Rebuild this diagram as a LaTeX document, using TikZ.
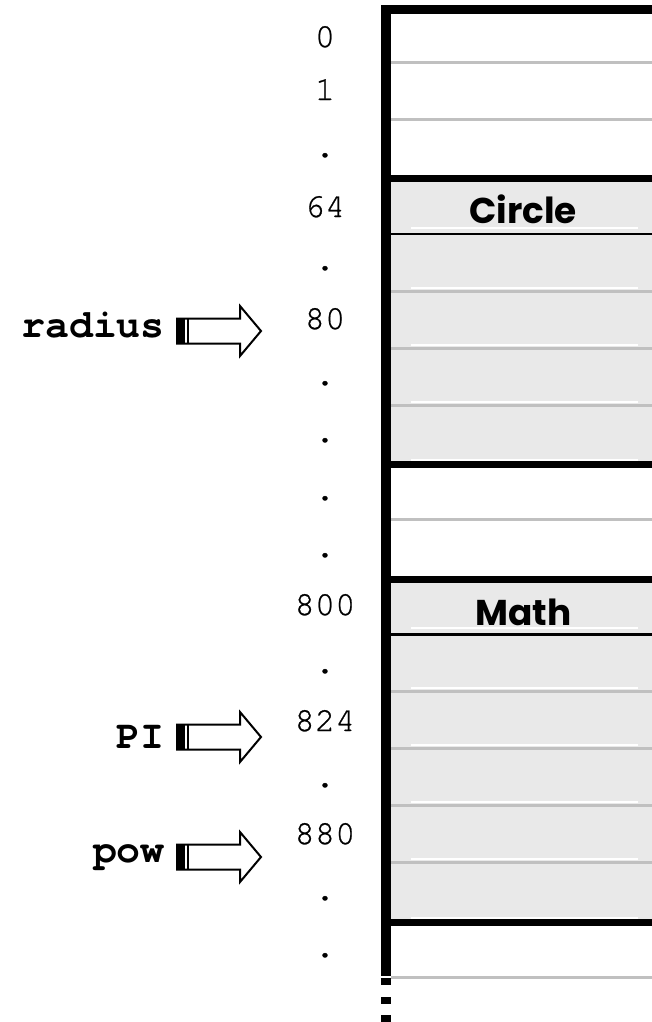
\documentclass[tikz,border=0pt]{standalone}
\usepackage{fontspec}
\newfontfamily\cour{TeX Gyre Cursor}
\newfontfamily\courfb[FakeBold=0.7]{TeX Gyre Cursor}
\newfontfamily\comic{Poppins}
\newcommand\numfont{\courfb\fontsize{34}{34}\selectfont}
\newcommand\lblfont{\cour\bfseries\fontsize{40}{40}\selectfont}
\newcommand\hdrfont{\comic\bfseries\fontsize{36}{36}\selectfont}
\definecolor{cellgray}{HTML}{E9E9E9}
\definecolor{rulegray}{HTML}{C0C0C0}
\tikzset{
  num/.style={font=\numfont, anchor=base, inner sep=0pt},
  lbl/.style={font=\lblfont, anchor=base east, inner sep=0pt},
  hdr/.style={font=\hdrfont, anchor=base, inner sep=0pt},
  grayrule/.style={draw=rulegray, line width=3bp},
  hilite/.style={draw=white, line width=2bp},
  heavyrule/.style={draw=black, line width=7bp},
  headrule/.style={draw=black, line width=2.5bp},
  memarrow/.pic={
    \draw[line width=2bp, fill=white, line join=miter]
      (0,-12.5) -- (63,-12.5) -- (63,-25) -- (84,0) -- (63,25) -- (63,12.5) -- (0,12.5) -- cycle;
    \fill (0,-12.5) rectangle (8,12.5);
    \draw[line width=2bp] (11,-12.5) -- (11,12.5);
  }
}
\begin{document}
\begin{tikzpicture}[x=1bp,y=-1bp]
\useasboundingbox (0,0) rectangle (652,1022);
% gray object blocks
\fill[cellgray] (391,182) rectangle (652,461);
\fill[cellgray] (391,582) rectangle (652,919);
% rules in white area
\foreach \yy in {62,119,519.5,977}
  \draw[grayrule] (391,\yy) -- (652,\yy);
% Circle block
\draw[hilite] (411,228) -- (638,228);
\draw[headrule] (391,234) -- (652,234);
\foreach \yy in {291,348,405}{
  \draw[hilite] (411,\yy-3) -- (638,\yy-3);
  \draw[grayrule] (391,\yy) -- (652,\yy);
}
\draw[hilite] (411,459.5) -- (638,459.5);
% Math block
\draw[hilite] (411,628) -- (638,628);
\draw[headrule, line width=3bp] (391,634) -- (652,634);
\foreach \yy in {691,748,805,862}{
  \draw[hilite] (411,\yy-3) -- (638,\yy-3);
  \draw[grayrule] (391,\yy) -- (652,\yy);
}
\draw[hilite] (411,917.5) -- (638,917.5);
% heavy rules
\draw[black, line width=9bp] (381,9.5) -- (652,9.5);
\foreach \yy in {178.5,464.5,579.5,922.5}
  \draw[heavyrule] (381,\yy) -- (652,\yy);
% left wall
\draw[black, line width=10bp] (386,5) -- (386,976);
\fill (381,978) rectangle (391,985);
\fill (381,997) rectangle (391,1004);
\fill (381,1015) rectangle (391,1022);
% headers
\node[hdr] (circle) at (523,223) {Circle};
\node[hdr] (math) at (523.5,625) {Math};
% addresses
\node[num] (a0) at (325,47) {0};
\node[num] (a1) at (325,100) {1};
\node[num] (d1) at (325,157) {.};
\node[num] (a64) at (325,217) {64};
\node[num] (d2) at (325,270) {.};
\node[num] (a80) at (325,329) {80};
\node[num] (d3) at (325,385) {.};
\node[num] (d4) at (325,442) {.};
\node[num] (d5) at (325,500) {.};
\node[num] (d6) at (325,557) {.};
\node[num] (a800) at (325,615) {800};
\node[num] (d7) at (325,673) {.};
\node[num] (a824) at (325,731) {824};
\node[num] (d8) at (325,787) {.};
\node[num] (a880) at (325,844) {880};
\node[num] (d9) at (325,900) {.};
\node[num] (d10) at (325,957) {.};
% pointer labels and arrows
\node[lbl] (radius) at (165,337) {radius};
\node[lbl] (pi) at (165,748) {PI};
\node[lbl] (pow) at (165,862) {pow};
\pic at (177,331) {memarrow};
\pic at (177,737) {memarrow};
\pic at (177,857) {memarrow};
\end{tikzpicture}
\end{document}
